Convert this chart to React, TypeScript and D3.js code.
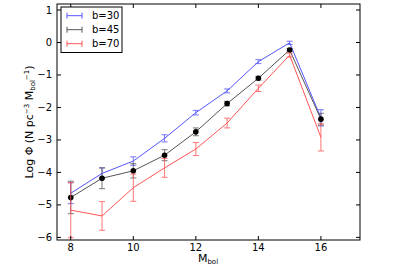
import React from "react";
import * as d3 from "d3";

const mags = [8, 9, 10, 11, 12, 13, 14, 15, 16];
const b30 = [-4.64, -4.03, -3.65, -2.95, -2.16, -1.49, -0.59, -0.01, -2.32];
const b30Err = [0.32, 0.17, 0.13, 0.11, 0.07, 0.06, 0.06, 0.05, 0.25];
const b45 = [-4.77, -4.18, -3.95, -3.47, -2.75, -1.88, -1.1, -0.23, -2.36];
const b45Err = [0.5, 0.32, 0.22, 0.17, 0.12, 0.07, 0.06, 0.05, 0.18];
const b70 = [-5.16, -5.34, -4.47, -3.86, -3.28, -2.48, -1.41, -0.39, -2.92];
const b70Err = [0.85, 0.44, 0.42, 0.29, 0.2, 0.15, 0.1, 0.06, 0.42];
const xTicks = [8, 10, 12, 14, 16];
const yTicks = [1, 0, -1, -2, -3, -4, -5, -6];
const seriesNames = ["b=30", "b=45", "b=70"];

const W = 407;
const H = 268;
const L = 57, R = 360, T = 4, B = 240;
const FONT = "DejaVu Sans, sans-serif";

export default function App() {
  const x = d3.scaleLinear().domain([7.56, 17.25]).range([L, R]);
  const y = d3.scaleLinear().domain([-6.08, 1.185]).range([B, T]);
  const line = d3
    .line<[number, number]>()
    .x((d) => x(d[0]))
    .y((d) => y(d[1]));

  const series = [
    { name: seriesNames[0], vals: b30, err: b30Err, color: "#5555ff", marker: false },
    { name: seriesNames[1], vals: b45, err: b45Err, color: "#555555", marker: true },
    { name: seriesNames[2], vals: b70, err: b70Err, color: "#ff5555", marker: false },
  ];
  const cap = 3;
  const tl = 4;

  return (
    <svg width={W} height={H} style={{ position: "absolute", left: 0, top: 0 }} fontFamily={FONT}>
      <rect x={0} y={0} width={W} height={H} fill="#fff" />
      {series.map((s) => (
        <g key={s.name}>
          <path d={line(mags.map((m, i) => [m, s.vals[i]]) as [number, number][]) || ""} fill="none" stroke={s.color} strokeWidth={1} />
          {mags.map((m, i) => {
            const cx = x(m);
            const y0 = y(s.vals[i] + s.err[i]);
            const y1 = y(s.vals[i] - s.err[i]);
            return (
              <g key={i} stroke={s.color} strokeWidth={1} opacity={0.8}>
                <line x1={cx} x2={cx} y1={y0} y2={y1} />
                <line x1={cx - cap} x2={cx + cap} y1={y0} y2={y0} />
                <line x1={cx - cap} x2={cx + cap} y1={y1} y2={y1} />
              </g>
            );
          })}
          {s.marker &&
            mags.map((m, i) => <circle key={"m" + i} cx={x(m)} cy={y(s.vals[i])} r={2.8} fill="#000" />)}
        </g>
      ))}
      <rect x={L} y={T} width={R - L} height={B - T} fill="none" stroke="#000" strokeWidth={1} />
      {xTicks.map((t) => (
        <g key={"x" + t}>
          <line x1={x(t)} x2={x(t)} y1={B} y2={B - tl} stroke="#000" />
          <line x1={x(t)} x2={x(t)} y1={T} y2={T + tl} stroke="#000" />
          <text x={x(t)} y={251} fontSize={10} textAnchor="middle">{t}</text>
        </g>
      ))}
      {yTicks.map((t) => (
        <g key={"y" + t}>
          <line x1={L} x2={L + tl} y1={y(t)} y2={y(t)} stroke="#000" />
          <line x1={R} x2={R - tl} y1={y(t)} y2={y(t)} stroke="#000" />
          <text x={L - 5} y={y(t) + 3.5} fontSize={10} textAnchor="end">
            {t < 0 ? "\u2212" + Math.abs(t) : String(t)}
          </text>
        </g>
      ))}
      <text x={208} y={262} fontSize={11} textAnchor="middle">
        M<tspan fontSize={7} dy={2}>bol</tspan>
      </text>
      <text transform={`translate(33,${(T + B) / 2}) rotate(-90)`} fontSize={11} textAnchor="middle">
        Log Φ (N pc<tspan fontSize={7} dy={-4}>−3</tspan>
        <tspan dy={4}> M</tspan>
        <tspan fontSize={7} dy={2}>bol</tspan>
        <tspan fontSize={7} dy={-6}>−1</tspan>
        <tspan dy={4}>)</tspan>
      </text>
      <rect x={61} y={7} width={61} height={45.5} fill="#fff" stroke="#000" strokeWidth={1} />
      {series.map((s, i) => {
        const ly = 15.7 + i * 14;
        return (
          <g key={"lg" + i}>
            <g stroke={s.color} strokeWidth={1}>
              <line x1={67} x2={82} y1={ly} y2={ly} />
              <line x1={67} x2={67} y1={ly - cap} y2={ly + cap} />
              <line x1={82} x2={82} y1={ly - cap} y2={ly + cap} />
            </g>
            <text x={92} y={ly + 3.5} fontSize={10}>{s.name}</text>
          </g>
        );
      })}
    </svg>
  );
}
